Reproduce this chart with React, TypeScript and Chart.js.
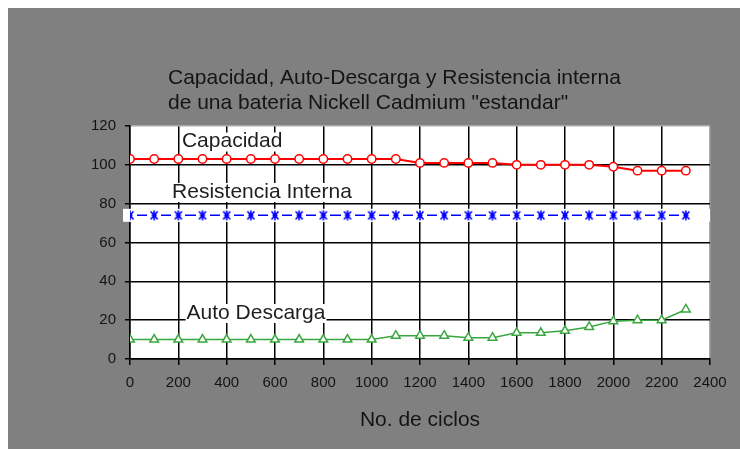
import React, { useEffect, useRef } from "react";
import { Chart, registerables } from "chart.js";

Chart.register(...registerables);

const FONT = '"Liberation Sans", Arial, sans-serif';

const titleLines = [
  "Capacidad, Auto-Descarga y Resistencia interna",
  'de una bateria Nickell Cadmium "estandar"',
];
const xAxisTitle = "No. de ciclos";

const cycles = [
  0, 100, 200, 300, 400, 500, 600, 700, 800, 900, 1000, 1100,
  1200, 1300, 1400, 1500, 1600, 1700, 1800, 1900, 2000, 2100, 2200, 2300,
];
const capacidad = [
  103, 103, 103, 103, 103, 103, 103, 103, 103, 103, 103, 103,
  101, 101, 101, 101, 100, 100, 100, 100, 99, 97, 97, 97,
];
const resistenciaInterna = [
  74, 74, 74, 74, 74, 74, 74, 74, 74, 74, 74, 74,
  74, 74, 74, 74, 74, 74, 74, 74, 74, 74, 74, 74,
];
const autoDescarga = [
  10, 10, 10, 10, 10, 10, 10, 10, 10, 10, 10, 12,
  12, 12, 11, 11, 13.5, 13.5, 14.5, 16.5, 19.5, 20, 20, 25.5,
];

const seriesNames = ["Capacidad", "Resistencia Interna", "Auto Descarga"];
// annotation anchor (left edge, vertical middle) in data units
const labelX = [215, 174, 234];
const labelY = [112, 86, 23.7];

const xMin = 0;
const xMax = 2400;
const xStep = 200;
const yMin = 0;
const yMax = 120;
const yStep = 20;

function makeStar(): HTMLCanvasElement {
  const c = document.createElement("canvas");
  c.width = 14;
  c.height = 13;
  const g = c.getContext("2d")!;
  g.fillStyle = "#ffffff";
  g.fillRect(0, 0, 14, 13);
  g.strokeStyle = "#0000ff";
  g.lineWidth = 1.6;
  g.beginPath();
  g.moveTo(7, 1.5);
  g.lineTo(7, 11.5);
  g.moveTo(3.5, 2.5);
  g.lineTo(10.5, 10.5);
  g.moveTo(10.5, 2.5);
  g.lineTo(3.5, 10.5);
  g.moveTo(4.5, 6.5);
  g.lineTo(9.5, 6.5);
  g.stroke();
  return c;
}

const decorPlugin = {
  id: "decor",
  beforeDraw(chart: any) {
    const { ctx, chartArea } = chart;
    ctx.save();
    ctx.fillStyle = "#ffffff";
    ctx.fillRect(chartArea.left, chartArea.top, chartArea.right - chartArea.left, chartArea.bottom - chartArea.top);
    ctx.restore();
  },
  beforeDatasetsDraw(chart: any) {
    const { ctx, chartArea, scales } = chart;
    const y = scales.y.getPixelForValue(resistenciaInterna[0]);
    ctx.save();
    ctx.fillStyle = "#ffffff";
    ctx.fillRect(chartArea.left - 7, y - 6.5, chartArea.right - chartArea.left + 7, 13);
    ctx.restore();
  },
  afterDatasetsDraw(chart: any) {
    const { ctx, scales } = chart;
    ctx.save();
    ctx.font = `21px ${FONT}`;
    ctx.textBaseline = "middle";
    ctx.textAlign = "left";
    seriesNames.forEach((name, i) => {
      const x = scales.x.getPixelForValue(labelX[i]);
      const y = scales.y.getPixelForValue(labelY[i]);
      const w = ctx.measureText(name).width;
      ctx.fillStyle = "#ffffff";
      ctx.fillRect(x - 1, y - 9, w + 2, 19);
      ctx.fillStyle = "#1e1e1e";
      ctx.fillText(name, x, y);
    });
    ctx.restore();
  },
  afterDraw(chart: any) {
    const { ctx } = chart;
    ctx.save();
    ctx.font = `21px ${FONT}`;
    ctx.textBaseline = "middle";
    ctx.textAlign = "left";
    ctx.fillStyle = "#141414";
    titleLines.forEach((t, i) => ctx.fillText(t, 160, 70 + i * 25));
    ctx.restore();
  },
};

export default function App() {
  const ref = useRef<HTMLCanvasElement>(null);

  useEffect(() => {
    const star = makeStar();
    const chart = new Chart(ref.current!, {
      type: "line",
      data: {
        datasets: [
          {
            label: seriesNames[0],
            data: cycles.map((c, i) => ({ x: c, y: capacidad[i] })),
            borderColor: "#ff0000",
            borderWidth: 2,
            pointStyle: "circle",
            pointRadius: 4.2,
            pointBorderWidth: 1.5,
            pointBackgroundColor: "#ffffff",
            pointBorderColor: "#ff0000",
            tension: 0,
          },
          {
            label: seriesNames[1],
            data: cycles.map((c, i) => ({ x: c, y: resistenciaInterna[i] })),
            borderColor: "#0000ff",
            borderWidth: 1.5,
            pointStyle: star as any,
            pointRadius: 5,
            tension: 0,
          },
          {
            label: seriesNames[2],
            data: cycles.map((c, i) => ({ x: c, y: autoDescarga[i] })),
            borderColor: "#3aa63f",
            borderWidth: 1.5,
            pointStyle: "triangle",
            pointRadius: 5,
            pointBorderWidth: 1.5,
            pointBackgroundColor: "#ffffff",
            pointBorderColor: "#3aa63f",
            tension: 0,
          },
        ],
      },
      options: {
        animation: false,
        responsive: false,
        layout: { padding: { top: 118, right: 30, left: 0, bottom: 0 } },
        plugins: {
          legend: { display: false },
          tooltip: { enabled: false },
          title: { display: false },
        },
        scales: {
          x: {
            type: "linear",
            min: xMin,
            max: xMax,
            ticks: {
              stepSize: xStep,
              color: "#141414",
              font: { family: FONT, size: 15 },
              padding: 9,
              maxRotation: 0,
              autoSkip: false,
              callback: (v: any) => String(v),
            },
            grid: {
              color: (c: any) => (c.tick && c.tick.value === xMax ? "#a8a8a8" : "#000000"),
              lineWidth: 1.5,
              tickLength: 6,
              tickColor: "#000000",
            },
            border: { color: "#000000", width: 1.5 },
            title: {
              display: true,
              text: xAxisTitle,
              color: "#141414",
              font: { family: FONT, size: 21 },
              padding: { top: 0, bottom: 16 },
            },
            afterFit: (s: any) => {
              s.height = 90;
            },
          },
          y: {
            min: yMin,
            max: yMax,
            ticks: {
              stepSize: yStep,
              color: "#141414",
              font: { family: FONT, size: 15 },
              padding: 9,
              callback: (v: any) => String(v),
            },
            grid: {
              color: (c: any) => (c.tick && c.tick.value === yMax ? "#a8a8a8" : "#000000"),
              lineWidth: 1.5,
              tickLength: 5,
              tickColor: "#000000",
            },
            border: { color: "#000000", width: 1.5 },
            afterFit: (s: any) => {
              s.width = 122;
            },
          },
        },
      },
      plugins: [decorPlugin],
    });
    return () => chart.destroy();
  }, []);

  return (
    <div
      style={{
        position: "fixed",
        left: 8,
        top: 8,
        width: 732,
        height: 441,
        background: "#808080",
      }}
    >
      <canvas ref={ref} width={732} height={441} style={{ display: "block" }} />
    </div>
  );
}
